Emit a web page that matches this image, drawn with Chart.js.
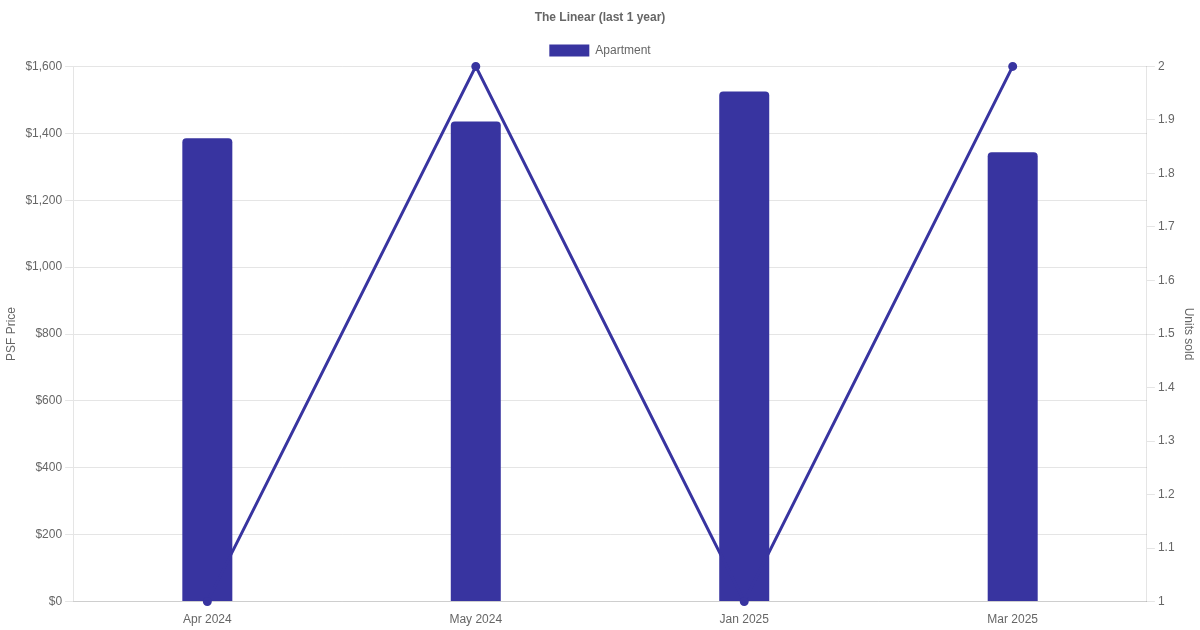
<!DOCTYPE html>
<html>
<head>
<meta charset="utf-8">
<script src="https://cdn.jsdelivr.net/npm/chart.js@4"></script>
<style>
  html, body { margin: 0; padding: 0; background: #fff; }
  #wrap { width: 1200px; height: 630px; }
</style>
</head>
<body>
<div id="wrap"><canvas id="chart"></canvas></div>
<script>
/* The Linear — PSF price vs units sold */
const MONTHS     = ['Apr 2024', 'May 2024', 'Jan 2025', 'Mar 2025'];
const PSF_PRICE  = [1385, 1435, 1525, 1343];
const UNITS_SOLD = [1, 2, 1, 2];

const COLOR = '#3834a0';

Chart.defaults.font.family = '"Liberation Sans", Arial, sans-serif';
Chart.defaults.font.size = 12;
Chart.defaults.color = '#666';

new Chart(document.getElementById('chart'), {
  type: 'bar',
  data: {
    labels: MONTHS,
    datasets: [
      {
        label: 'Units sold',
        type: 'line',
        data: UNITS_SOLD,
        borderColor: COLOR,
        backgroundColor: COLOR,
        borderWidth: 3,
        pointRadius: 3,
        tension: 0,
        clip: false,
        yAxisID: 'y1',
      },
      {
        label: 'Apartment',
        data: PSF_PRICE,
        backgroundColor: COLOR,
        borderRadius: 4,
        maxBarThickness: 50,
        yAxisID: 'y',
      },
    ],
  },
  options: {
    responsive: true,
    maintainAspectRatio: false,
    animation: false,
    plugins: {
      title: {
        display: true,
        text: 'The Linear (last 1 year)',
        font: { weight: 'bold', size: 12 },
        padding: { top: 10, bottom: 10 },
      },
      legend: {
        display: true,
        labels: { filter: item => item.text === 'Apartment' },
      },
    },
    scales: {
      x: {
        grid: { display: false },
      },
      y: {
        position: 'left',
        min: 0,
        max: 1600,
        ticks: { stepSize: 200, callback: v => '$' + v.toLocaleString('en-US') },
        title: { display: true, text: 'PSF Price' },
      },
      y1: {
        position: 'right',
        min: 1,
        max: 2,
        ticks: { stepSize: 0.1, callback: v => String(Math.round(v * 10) / 10) },
        grid: { drawOnChartArea: false },
        title: { display: true, text: 'Units sold' },
      },
    },
  },
});
</script>
</body>
</html>
